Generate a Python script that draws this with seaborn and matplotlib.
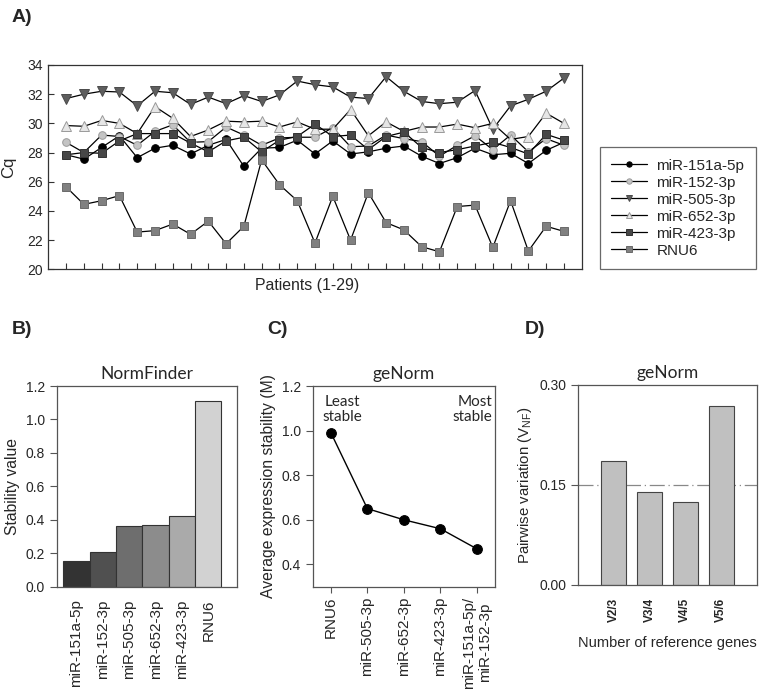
import numpy as np
import pandas as pd
import matplotlib
matplotlib.use("Agg")
import matplotlib.pyplot as plt
import seaborn as sns

sns.set_theme(style="white")
plt.rcParams['font.family'] = ['Liberation Sans', 'DejaVu Sans']

# ---------------- data ----------------
patients = list(range(1, 30))
mir151a = [27.85, 27.55, 28.35, 29.15, 27.65, 28.3, 28.5, 27.9, 28.5, 28.9, 27.05, 28.3, 28.35, 28.85, 27.9,
           28.8, 27.9, 28.05, 28.3, 28.45, 27.75, 27.25, 27.65, 28.3, 27.85, 27.95, 27.25, 28.15, 28.7]
mir152 = [28.7, 28.0, 29.2, 29.1, 28.5, 29.45, 29.9, 28.7, 28.75, 29.75, 29.2, 28.5, 29.0, 29.05, 29.05,
          29.7, 28.4, 28.45, 29.2, 28.95, 28.75, 27.75, 28.5, 29.15, 28.2, 29.2, 28.05, 28.95, 28.5]
mir505 = [31.7, 32.0, 32.2, 32.15, 31.2, 32.2, 32.1, 31.3, 31.8, 31.35, 31.9, 31.5, 31.95, 32.9, 32.65,
          32.5, 31.8, 31.7, 33.2, 32.2, 31.5, 31.35, 31.45, 32.25, 29.6, 31.2, 31.65, 32.2, 33.1]
mir652 = [29.85, 29.8, 30.2, 30.0, 29.3, 31.15, 30.35, 29.1, 29.55, 30.15, 30.1, 30.15, 29.75, 30.1, 29.6,
          29.6, 30.95, 29.15, 30.1, 29.45, 29.75, 29.75, 29.95, 29.7, 30.0, 28.9, 29.1, 30.7, 30.0]
mir423 = [27.85, 28.0, 27.95, 28.8, 29.3, 29.3, 29.3, 28.65, 28.05, 28.8, 29.05, 28.05, 28.85, 29.1, 29.95,
          29.1, 29.2, 28.2, 29.1, 29.4, 28.35, 28.0, 28.2, 28.45, 28.7, 28.35, 27.9, 29.25, 28.85]
rnu6 = [25.65, 24.45, 24.7, 25.05, 22.55, 22.65, 23.1, 22.4, 23.3, 21.75, 22.95, 27.5, 25.8, 24.7, 21.8,
        25.0, 22.0, 25.25, 23.2, 22.7, 21.55, 21.2, 24.3, 24.4, 21.5, 24.7, 21.25, 22.95, 22.6]

series_names = ["miR-151a-5p", "miR-152-3p", "miR-505-3p", "miR-652-3p", "miR-423-3p", "RNU6"]
series_values = [mir151a, mir152, mir505, mir652, mir423, rnu6]

nf_genes = ["miR-151a-5p", "miR-152-3p", "miR-505-3p", "miR-652-3p", "miR-423-3p", "RNU6"]
nf_values = [0.155, 0.205, 0.36, 0.37, 0.42, 1.11]

gn_genes = ["RNU6", "miR-505-3p", "miR-652-3p", "miR-423-3p", "miR-151a-5p/\nmiR-152-3p"]
gn_values = [0.99, 0.65, 0.60, 0.56, 0.47]

pv_labels = ["V2/3", "V3/4", "V4/5", "V5/6"]
pv_values = [0.186, 0.140, 0.124, 0.268]
pv_threshold = 0.15

# ---------------- styles ----------------
markers = ["o", "o", "v", "^", "s", "s"]
face = ["#000000", "#c4c4c4", "#5e5e5e", "#e6e6e6", "#474747", "#808080"]
edge = ["#000000", "#9a9a9a", "#4a4a4a", "#9a9a9a", "#333333", "#6a6a6a"]
nf_colors = ["#333333", "#505050", "#6e6e6e", "#8c8c8c", "#aaaaaa", "#d2d2d2"]
title_font = ['Lato', 'DejaVu Sans']

W, H = 768, 692
fig = plt.figure(figsize=(W / 100, H / 100), dpi=100)

def frac(l, t, r, b):
    return [l / W, (H - b) / H, (r - l) / W, (b - t) / H]

# ---------------- panel A ----------------
axA = fig.add_axes(frac(48.3, 65, 581.7, 269.3))
for name, vals, m, fc, ec in zip(series_names, series_values, markers, face, edge):
    df = pd.DataFrame({"Patient": patients, "Cq": vals})
    sns.lineplot(data=df, x="Patient", y="Cq", ax=axA, color="black", linewidth=0.9,
                 marker=m, markersize=6.5 if m in ("v", "^") else 5.5,
                 markerfacecolor=fc, markeredgecolor=ec, markeredgewidth=0.7, label=name)
axA.set_xlim(0, 30)
axA.set_ylim(20, 34)
axA.set_yticks(range(20, 35, 2))
axA.set_xticks(patients)
axA.set_xticklabels([])
axA.tick_params(axis="both", direction="in", length=4.5, width=0.8, color="#333333",
                bottom=True, left=True, labelsize=10, pad=4)
axA.set_xlabel("Patients (1-29)", fontsize=11.4, labelpad=5)
axA.xaxis.set_label_coords(0.486, -0.045, transform=axA.transAxes)
axA.xaxis.label.set_va("top")
axA.set_ylabel("Cq", fontsize=12, labelpad=8)
for s in axA.spines.values():
    s.set_color("#333333")
    s.set_linewidth(0.9)
handles, labels = axA.get_legend_handles_labels()
axA.get_legend().remove()
leg = fig.legend(handles, labels, loc="lower left", bbox_to_anchor=(600 / W, (H - 269.3) / H),
                 frameon=True, fancybox=False, fontsize=11, handlelength=2.3, handletextpad=0.65,
                 borderpad=0.75, labelspacing=0.2, borderaxespad=0, markerscale=0.7)
leg.get_frame().set_edgecolor("#444444")
leg.get_frame().set_linewidth(0.9)

fig.text(12 / W, 1 - 17 / H, "A)", fontsize=14, fontweight="bold", va="center", ha="left")

# ---------------- panel B ----------------
axB = fig.add_axes(frac(56.7, 386, 237.3, 586.7))
sns.barplot(x=nf_genes, y=nf_values, hue=nf_genes, palette=nf_colors, legend=False, ax=axB,
            width=1.0, edgecolor="#333333", linewidth=0.8)
axB.set_xlim(-0.75, 6.1)
axB.set_ylim(0, 1.2)
axB.set_yticks(np.arange(0, 1.21, 0.2))
axB.set_yticklabels([f"{v:.1f}" for v in np.arange(0, 1.21, 0.2)])
axB.tick_params(axis="y", direction="out", length=5, width=0.8, color="#555555", left=True, labelsize=10)
axB.tick_params(axis="x", bottom=False, labelsize=11, rotation=90, pad=3)
axB.set_ylabel("Stability value", fontsize=11.3)
axB.set_title("NormFinder", fontsize=12.5, family=title_font, pad=5)
for s in axB.spines.values():
    s.set_color("#555555")
    s.set_linewidth(0.9)
fig.text(12 / W, 1 - 329 / H, "B)", fontsize=14, fontweight="bold", va="center", ha="left")

# ---------------- panel C ----------------
axC = fig.add_axes(frac(312.7, 386, 495, 586.7))
sns.pointplot(x=gn_genes, y=gn_values, ax=axC, color="black", markers="o",
              markersize=7, linewidth=1.0)
axC.set_xlim(-0.5, 4.5)
axC.set_ylim(0.3, 1.2)
axC.set_yticks([0.4, 0.6, 0.8, 1.0, 1.2])
axC.set_yticklabels(["0.4", "0.6", "0.8", "1.0", "1.2"])
axC.tick_params(axis="y", direction="out", length=5, width=0.8, color="#555555", left=True, labelsize=10)
axC.tick_params(axis="x", direction="out", length=4, width=0.8, color="#555555", bottom=True,
                labelsize=11, rotation=90, pad=3)
axC.set_xlabel("")
axC.set_ylabel("Average expression stability (M)", fontsize=11.3)
axC.set_title("geNorm", fontsize=12.5, family=title_font, pad=5)
axC.text(0.165, 0.955, "Least\nstable", transform=axC.transAxes, ha="center", va="top",
         fontsize=11, family=title_font, linespacing=1.1)
axC.text(0.985, 0.955, "Most\nstable", transform=axC.transAxes, ha="right", va="top",
         fontsize=11, family=title_font, linespacing=1.1)
for s in axC.spines.values():
    s.set_color("#555555")
    s.set_linewidth(0.9)
fig.text(267 / W, 1 - 329 / H, "C)", fontsize=14, fontweight="bold", va="center", ha="left")

# ---------------- panel D ----------------
axD = fig.add_axes(frac(578.3, 385, 756.7, 585))
axD.axhline(pv_threshold, color="#888888", linewidth=0.9, linestyle=(0, (12, 3, 1, 3)), zorder=0)
sns.barplot(x=pv_labels, y=pv_values, color="#c0c0c0", ax=axD, width=0.7,
            edgecolor="#444444", linewidth=0.8, saturation=1, zorder=2)
axD.set_xlim(-1, 4)
axD.set_ylim(0, 0.30)
axD.set_yticks([0.0, 0.15, 0.30])
axD.set_yticklabels(["0.00", "0.15", "0.30"])
axD.tick_params(axis="y", direction="out", length=5, width=0.8, color="#555555", left=True, labelsize=10)
axD.tick_params(axis="x", bottom=False, labelsize=8.5, rotation=90, pad=3)
for lab in axD.get_xticklabels():
    lab.set_fontweight("bold")
axD.set_xlabel("Number of reference genes", fontsize=10.5, labelpad=10)
axD.set_ylabel("Pairwise variation (V$_{\\mathregular{NF}}$)", fontsize=10.8)
axD.set_title("geNorm", fontsize=12.5, family=title_font, pad=5)
for s in axD.spines.values():
    s.set_color("#555555")
    s.set_linewidth(0.9)
fig.text(525 / W, 1 - 329 / H, "D)", fontsize=14, fontweight="bold", va="center", ha="left")

fig.savefig("out.png", dpi=100, facecolor="white")
